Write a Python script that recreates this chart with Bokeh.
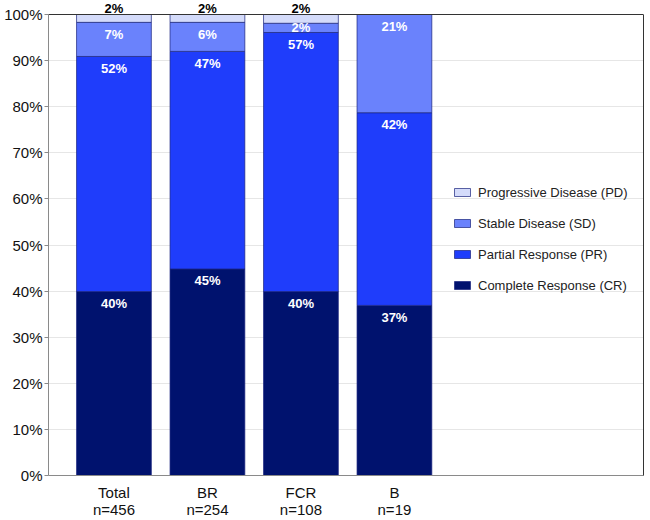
from bokeh.plotting import figure
from bokeh.models import (ColumnDataSource, LabelSet, Legend, LegendItem,
                          FixedTicker, PrintfTickFormatter, Range1d,
                          LinearAxis, Span)
from bokeh.core.properties import value
from bokeh.embed import file_html
from bokeh.resources import INLINE

# ---- data ----
categories = ["Total\nn=456", "BR\nn=254", "FCR\nn=108", "B\nn=19"]
cr = [39.9, 44.8, 39.9, 36.9]   # Complete Response
pr = [51.0, 47.2, 56.2, 41.8]   # Partial Response
sd = [7.4, 6.3, 2.0, 21.3]      # Stable Disease
pdz = [1.7, 1.7, 1.9, 0.0]      # Progressive Disease
cr_text = ["40%", "45%", "40%", "37%"]
pr_text = ["52%", "47%", "57%", "42%"]
sd_text = ["7%", "6%", "2%", "21%"]
pd_text = ["2%", "2%", "2%", ""]
series_names = ["Complete Response (CR)", "Partial Response (PR)",
                "Stable Disease (SD)", "Progressive Disease (PD)"]
colors = ["#00126E", "#1F3DFB", "#6A82FC", "#D4DBFA"]
y_ticks = [0, 10, 20, 30, 40, 50, 60, 70, 80, 90, 100]

xs = [i + 1 for i in range(len(categories))]
FONT = "Liberation Sans"

src = ColumnDataSource(dict(x=xs, cr=cr, pr=pr, sd=sd, pd=pdz))

p = figure(width=650, height=520, x_range=Range1d(0.30, 6.664),
           y_range=Range1d(0, 103.04), output_backend="svg",
           toolbar_location=None, min_border_left=48, min_border_right=7,
           min_border_top=0, min_border_bottom=40)
p.outline_line_color = None

keys = ["cr", "pr", "sd", "pd"]
rends = p.vbar_stack(keys, x="x", width=0.8, source=src, color=colors,
                     line_color="#1a237e", line_width=1, line_alpha=0.7)

# labels inside segments
def seg_labels(bottoms, vals):
    return [max(b + v - 2.6, b + v / 2.0) for b, v in zip(bottoms, vals)]

b0 = [0.0] * 4
b1 = [a for a in cr]
b2 = [a + b for a, b in zip(cr, pr)]
b3 = [a + b + c for a, b, c in zip(cr, pr, sd)]

wx, wy, wt = [], [], []
for bottoms, vals, texts in [(b0, cr, cr_text), (b1, pr, pr_text), (b2, sd, sd_text)]:
    ys = seg_labels(bottoms, vals)
    for x, y, t in zip(xs, ys, texts):
        wx.append(x); wy.append(y); wt.append(t)

wsrc = ColumnDataSource(dict(x=wx, y=wy, t=wt))
p.add_layout(LabelSet(x="x", y="y", text="t", source=wsrc, text_align="center",
                      text_baseline="middle", text_color="white",
                      text_font=value(FONT), text_font_style="bold",
                      text_font_size="13px"))

tx = [x for x, t in zip(xs, pd_text) if t]
ty = [b + v for b, v, t in zip(b3, pdz, pd_text) if t]
tt = [t for t in pd_text if t]
tsrc = ColumnDataSource(dict(x=tx, y=ty, t=tt))
p.add_layout(LabelSet(x="x", y="y", text="t", source=tsrc, text_align="center",
                      text_baseline="middle", text_color="black", y_offset=6,
                      text_font=value(FONT), text_font_style="bold",
                      text_font_size="13px"))

# frame borders (top and right)
p.add_layout(Span(location=100, dimension="width", line_color="#333333",
                  line_width=1))
right_ax = LinearAxis(bounds=(0, 100), ticker=FixedTicker(ticks=[]),
                      axis_line_color="#333333", major_tick_line_color=None,
                      minor_tick_line_color=None)
p.add_layout(right_ax, "right")

# axes
p.xaxis.ticker = FixedTicker(ticks=xs)
p.xaxis.major_label_overrides = {x: c for x, c in zip(xs, categories)}
p.xaxis.major_tick_line_color = None
p.xaxis.minor_tick_line_color = None
p.xaxis.major_label_standoff = 2
p.xaxis.major_label_text_line_height = 1.0
p.xaxis.axis_line_color = "#8a8a8a"
p.xaxis.major_label_text_font = FONT
p.xaxis.major_label_text_font_size = "15px"
p.xaxis.major_label_text_color = "#111111"

ly = p.yaxis[0]
ly.bounds = (0, 100)
ly.ticker = FixedTicker(ticks=y_ticks)
ly.formatter = PrintfTickFormatter(format="%d%%")
ly.major_tick_in = 0
ly.major_tick_out = 4
ly.major_label_standoff = 2
ly.minor_tick_line_color = None
ly.major_tick_line_color = "#8a8a8a"
ly.axis_line_color = "#8a8a8a"
ly.major_label_text_font = FONT
ly.major_label_text_font_size = "15px"
ly.major_label_text_color = "#111111"

p.xgrid.grid_line_color = None
p.ygrid.grid_line_color = "#e6e6e6"
p.ygrid.ticker = FixedTicker(ticks=y_ticks)

items = [LegendItem(label=series_names[i], renderers=[rends[i]]) for i in (3, 2, 1, 0)]
legend = Legend(items=items, location=(404, 180), background_fill_alpha=0,
                border_line_alpha=0, padding=0, margin=0, spacing=11,
                glyph_height=10, glyph_width=20, label_height=20,
                label_standoff=6, label_text_font=FONT,
                label_text_font_size="13px", label_text_color="#222222")
p.add_layout(legend)

open("out.html", "w").write(file_html(p, INLINE))
